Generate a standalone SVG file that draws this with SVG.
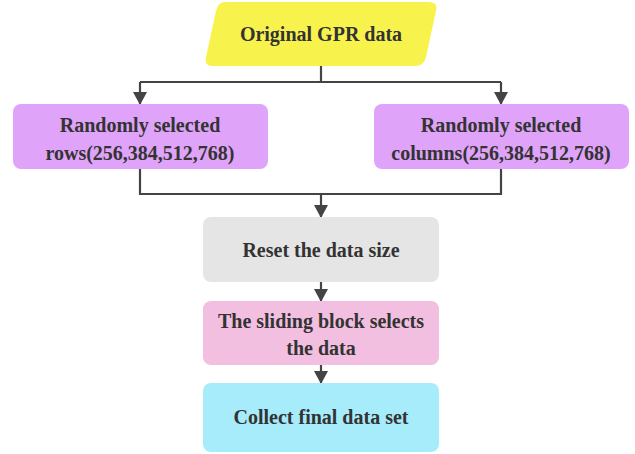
<svg xmlns="http://www.w3.org/2000/svg" width="635" height="454" viewBox="0 0 635 454">
<style>
.t{font-family:"Liberation Serif","Times New Roman",serif;font-weight:bold;font-size:20px;fill:#333;text-anchor:middle}
.c{fill:none;stroke:#444;stroke-width:2.2}
</style>
<defs>
<marker id="ah" markerWidth="13" markerHeight="14" refX="12" refY="7" orient="auto" markerUnits="userSpaceOnUse" viewBox="0 0 13 14">
<path d="M0,0 L13,7 L0,14 Z" fill="#444"/>
</marker>
</defs>
<rect width="635" height="454" fill="#fff"/>
<g id="connectors">
<path class="c" d="M321,66 V82 M140,82 H501"/>
<path class="c" d="M140,82 V104" marker-end="url(#ah)"/>
<path class="c" d="M501,82 V104" marker-end="url(#ah)"/>
<path class="c" d="M140,169 V194 H501 V169"/>
<path class="c" d="M321,194 V217" marker-end="url(#ah)"/>
<path class="c" d="M321,282 V301" marker-end="url(#ah)"/>
<path class="c" d="M321,365 V383" marker-end="url(#ah)"/>
</g>
<g id="n1">
<path d="M225,2 H429 Q438,2 436,11 L426,57 Q424,66 415,66 H213 Q204,66 206,57 L216,11 Q218,2 225,2 Z" fill="#f8f34c"/>
<text class="t" x="321" y="41">Original GPR data</text>
</g>
<g id="n2">
<rect x="13" y="104" width="255" height="65" rx="8" fill="#dfa3f9"/>
<text class="t" x="140" y="132">Randomly selected</text>
<text class="t" x="140" y="160">rows(256,384,512,768)</text>
</g>
<g id="n3">
<rect x="374" y="104" width="255" height="65" rx="8" fill="#dfa3f9"/>
<text class="t" x="501" y="132">Randomly selected</text>
<text class="t" x="501" y="160">columns(256,384,512,768)</text>
</g>
<g id="n4">
<rect x="203" y="217" width="236" height="65" rx="8" fill="#e5e5e5"/>
<text class="t" x="321" y="257">Reset the data size</text>
</g>
<g id="n5">
<rect x="203" y="301" width="236" height="64" rx="8" fill="#f2bfe0"/>
<text class="t" x="321" y="328">The sliding block selects</text>
<text class="t" x="321" y="355">the data</text>
</g>
<g id="n6">
<rect x="203" y="383" width="236" height="69" rx="8" fill="#a7ecfb"/>
<text class="t" x="321" y="424">Collect final data set</text>
</g>
</svg>
